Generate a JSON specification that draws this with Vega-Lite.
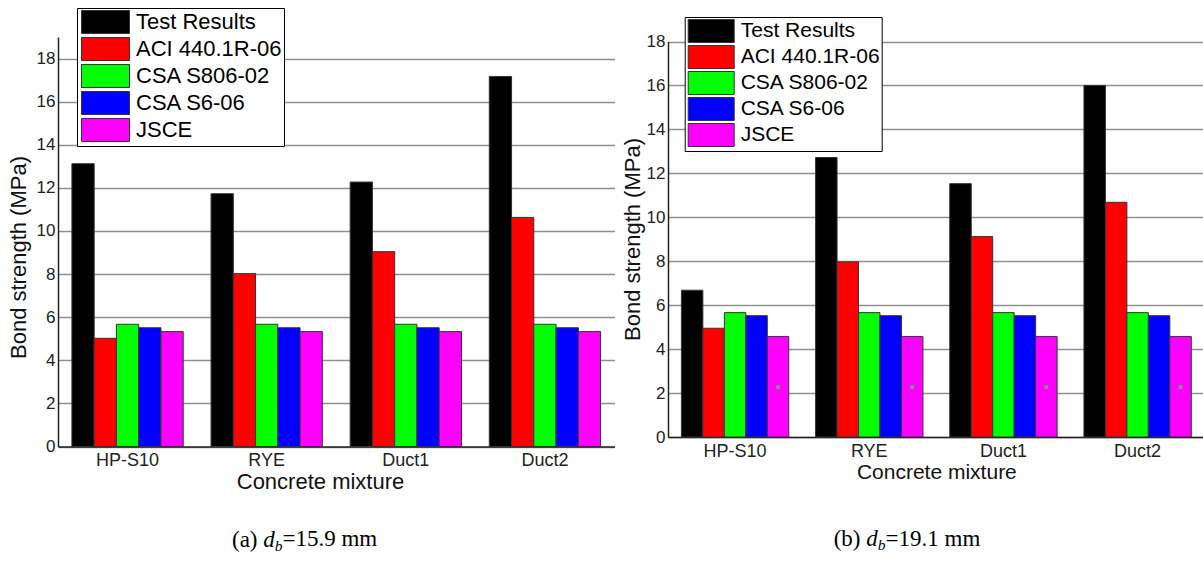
{
  "$schema": "https://vega.github.io/schema/vega-lite/v6.json",
  "padding": {"left": 7, "top": 7, "right": 0, "bottom": 0},
  "background": "white",
  "spacing": 6,
  "resolve": {"scale": {"color": "independent", "x": "independent", "y": "independent", "xOffset": "independent"}, "legend": {"color": "independent"}},
  "config": {
    "view": {"stroke": null},
    "font": "Liberation Sans",
    "axis": {"labelColor": "#222", "titleColor": "#111", "titleFontWeight": "normal", "labelFont": "Liberation Sans", "titleFont": "Liberation Sans"}
  },
  "datasets": {
    "a": [
      {"mixture": "HP-S10", "method": "Test Results", "value": 13.12},
      {"mixture": "HP-S10", "method": "ACI 440.1R-06", "value": 5.02},
      {"mixture": "HP-S10", "method": "CSA S806-02", "value": 5.67},
      {"mixture": "HP-S10", "method": "CSA S6-06", "value": 5.51},
      {"mixture": "HP-S10", "method": "JSCE", "value": 5.33},
      {"mixture": "RYE", "method": "Test Results", "value": 11.73},
      {"mixture": "RYE", "method": "ACI 440.1R-06", "value": 8.02},
      {"mixture": "RYE", "method": "CSA S806-02", "value": 5.67},
      {"mixture": "RYE", "method": "CSA S6-06", "value": 5.51},
      {"mixture": "RYE", "method": "JSCE", "value": 5.33},
      {"mixture": "Duct1", "method": "Test Results", "value": 12.27},
      {"mixture": "Duct1", "method": "ACI 440.1R-06", "value": 9.04},
      {"mixture": "Duct1", "method": "CSA S806-02", "value": 5.67},
      {"mixture": "Duct1", "method": "CSA S6-06", "value": 5.51},
      {"mixture": "Duct1", "method": "JSCE", "value": 5.33},
      {"mixture": "Duct2", "method": "Test Results", "value": 17.17},
      {"mixture": "Duct2", "method": "ACI 440.1R-06", "value": 10.63},
      {"mixture": "Duct2", "method": "CSA S806-02", "value": 5.67},
      {"mixture": "Duct2", "method": "CSA S6-06", "value": 5.51},
      {"mixture": "Duct2", "method": "JSCE", "value": 5.33}
    ],
    "b": [
      {"mixture": "HP-S10", "method": "Test Results", "value": 6.68},
      {"mixture": "HP-S10", "method": "ACI 440.1R-06", "value": 4.95},
      {"mixture": "HP-S10", "method": "CSA S806-02", "value": 5.66},
      {"mixture": "HP-S10", "method": "CSA S6-06", "value": 5.52},
      {"mixture": "HP-S10", "method": "JSCE", "value": 4.57},
      {"mixture": "RYE", "method": "Test Results", "value": 12.72},
      {"mixture": "RYE", "method": "ACI 440.1R-06", "value": 7.97},
      {"mixture": "RYE", "method": "CSA S806-02", "value": 5.66},
      {"mixture": "RYE", "method": "CSA S6-06", "value": 5.52},
      {"mixture": "RYE", "method": "JSCE", "value": 4.57},
      {"mixture": "Duct1", "method": "Test Results", "value": 11.53},
      {"mixture": "Duct1", "method": "ACI 440.1R-06", "value": 9.12},
      {"mixture": "Duct1", "method": "CSA S806-02", "value": 5.66},
      {"mixture": "Duct1", "method": "CSA S6-06", "value": 5.52},
      {"mixture": "Duct1", "method": "JSCE", "value": 4.57},
      {"mixture": "Duct2", "method": "Test Results", "value": 16.0},
      {"mixture": "Duct2", "method": "ACI 440.1R-06", "value": 10.68},
      {"mixture": "Duct2", "method": "CSA S806-02", "value": 5.66},
      {"mixture": "Duct2", "method": "CSA S6-06", "value": 5.52},
      {"mixture": "Duct2", "method": "JSCE", "value": 4.57}
    ],
    "bdots": [
      {"mixture": "HP-S10", "method": "JSCE", "value": 2.27},
      {"mixture": "RYE", "method": "JSCE", "value": 2.27},
      {"mixture": "Duct1", "method": "JSCE", "value": 2.27},
      {"mixture": "Duct2", "method": "JSCE", "value": 2.27}
    ]
  },
  "hconcat": [
    {
      "title": {"text": "=15.9 mm", "orient": "bottom", "anchor": "start", "frame": "bounds", "font": "Liberation Serif", "fontSize": 23, "fontWeight": "normal", "color": "#000", "baseline": "top", "offset": -25.6, "dx": 275.5},
      "vconcat": [
        {
          "title": {"text": "b", "orient": "bottom", "anchor": "start", "frame": "bounds", "font": "Liberation Serif", "fontSize": 15.5, "fontStyle": "italic", "fontWeight": "normal", "color": "#000", "baseline": "top", "offset": -13, "dx": 267.8},
          "vconcat": [
            {
              "title": {"text": "d", "orient": "bottom", "anchor": "start", "frame": "bounds", "font": "Liberation Serif", "fontSize": 23, "fontStyle": "italic", "fontWeight": "normal", "color": "#000", "baseline": "top", "offset": -23, "dx": 256.3},
              "vconcat": [
                {
                  "width": 556.5,
                  "height": 438.5,
                  "title": {"text": "(a)", "orient": "bottom", "anchor": "start", "frame": "bounds", "font": "Liberation Serif", "fontSize": 23, "fontWeight": "normal", "color": "#000", "baseline": "top", "offset": 36, "dx": 225},
                  "data": {"name": "a"},
                  "mark": {"type": "bar", "stroke": "#333", "strokeWidth": 1},
                  "encoding": {
                    "x": {"field": "mixture", "type": "nominal", "sort": ["HP-S10", "RYE", "Duct1", "Duct2"],
                      "scale": {"paddingInner": 0.2, "paddingOuter": 0.1},
                      "axis": {"title": "Concrete mixture", "labelAngle": 0, "ticks": false, "labelPadding": 5, "labelFontSize": 18, "titleFontSize": 22, "titlePadding": 2, "titleX": 262, "domainColor": "#222", "domainWidth": 1.5, "grid": false}},
                    "xOffset": {"field": "method", "type": "nominal",
                      "scale": {"domain": ["Test Results", "ACI 440.1R-06", "CSA S806-02", "CSA S6-06", "JSCE"], "paddingInner": 0, "paddingOuter": 0}},
                    "y": {"field": "value", "type": "quantitative",
                      "scale": {"domain": [0, 19], "range": [438.5, 29], "nice": false, "zero": true},
                      "axis": {"title": "Bond strength (MPa)", "values": [0, 2, 4, 6, 8, 10, 12, 14, 16, 18], "format": "d", "ticks": false, "labelPadding": 3, "labelFontSize": 17, "titleFontSize": 22, "titleX": -40, "titleY": 249, "titleBaseline": "middle", "grid": true, "gridColor": "#8f8f8f", "gridWidth": 1.5, "domainColor": "#222", "domainWidth": 1.5}},
                    "color": {"field": "method", "type": "nominal",
                      "scale": {"domain": ["Test Results", "ACI 440.1R-06", "CSA S806-02", "CSA S6-06", "JSCE"], "range": ["#000000", "#ff0000", "#00ff00", "#0000ff", "#ff00ff"]},
                      "legend": {"orient": "none", "legendX": 19, "legendY": 0, "title": null, "symbolType": "M-2.087,-1H2.087V1H-2.087Z", "symbolSize": 529, "symbolStrokeColor": "#333", "symbolStrokeWidth": 1, "symbolOpacity": 1, "symbolOffset": 14.5, "labelOffset": 18.5, "labelFontSize": 22, "labelFont": "Liberation Sans", "labelColor": "#000", "labelLimit": 400, "strokeColor": "#000", "fillColor": "#fff", "padding": 2, "rowPadding": -1}}
                  }
                }
              ]
            }
          ]
        }
      ]
    },
    {
      "title": {"text": "=19.1 mm", "orient": "bottom", "anchor": "start", "frame": "bounds", "font": "Liberation Serif", "fontSize": 23, "fontWeight": "normal", "color": "#000", "baseline": "top", "offset": -25.6, "dx": 263.9},
      "vconcat": [
        {
          "title": {"text": "b", "orient": "bottom", "anchor": "start", "frame": "bounds", "font": "Liberation Serif", "fontSize": 15.5, "fontStyle": "italic", "fontWeight": "normal", "color": "#000", "baseline": "top", "offset": -13, "dx": 256.1},
          "vconcat": [
            {
              "title": {"text": "d", "orient": "bottom", "anchor": "start", "frame": "bounds", "font": "Liberation Serif", "fontSize": 23, "fontStyle": "italic", "fontWeight": "normal", "color": "#000", "baseline": "top", "offset": -23, "dx": 244.6},
              "vconcat": [
                {
                  "width": 536.7,
                  "height": 429,
                  "title": {"text": "(b)", "orient": "bottom", "anchor": "start", "frame": "bounds", "font": "Liberation Serif", "fontSize": 23, "fontWeight": "normal", "color": "#000", "baseline": "top", "offset": 46, "dx": 212},
                  "layer": [
                    {
                      "data": {"name": "b"},
                      "mark": {"type": "bar", "stroke": "#333", "strokeWidth": 1},
                      "encoding": {
                        "x": {"field": "mixture", "type": "nominal", "sort": ["HP-S10", "RYE", "Duct1", "Duct2"],
                          "scale": {"paddingInner": 0.2, "paddingOuter": 0.1},
                          "axis": {"title": "Concrete mixture", "labelAngle": 0, "ticks": false, "labelPadding": 5, "labelFontSize": 18, "titleFontSize": 21, "titlePadding": 1, "domainColor": "#222", "domainWidth": 1.5, "grid": false}},
                        "xOffset": {"field": "method", "type": "nominal",
                          "scale": {"domain": ["Test Results", "ACI 440.1R-06", "CSA S806-02", "CSA S6-06", "JSCE"], "paddingInner": 0, "paddingOuter": 0}},
                        "y": {"field": "value", "type": "quantitative",
                          "scale": {"domain": [0, 18], "range": [429, 33.5], "nice": false, "zero": true},
                          "axis": {"title": "Bond strength (MPa)", "values": [0, 2, 4, 6, 8, 10, 12, 14, 16, 18], "format": "d", "ticks": false, "labelPadding": 3, "labelFontSize": 17, "titleFontSize": 22, "titleX": -35.3, "titleY": 231, "titleBaseline": "middle", "grid": true, "gridColor": "#8f8f8f", "gridWidth": 1.5, "domainColor": "#222", "domainWidth": 1.5}},
                        "color": {"field": "method", "type": "nominal",
                          "scale": {"domain": ["Test Results", "ACI 440.1R-06", "CSA S806-02", "CSA S6-06", "JSCE"], "range": ["#000000", "#ff0000", "#00ff00", "#0000ff", "#ff00ff"]},
                          "legend": {"orient": "none", "legendX": 16.7, "legendY": 9, "title": null, "symbolType": "M-2,-1H2V1H-2Z", "symbolSize": 529, "symbolStrokeColor": "#333", "symbolStrokeWidth": 1, "symbolOpacity": 1, "symbolOffset": 12.5, "labelOffset": 17.5, "labelFontSize": 21, "labelFont": "Liberation Sans", "labelColor": "#000", "labelLimit": 400, "strokeColor": "#000", "fillColor": "#fff", "padding": 2, "rowPadding": -2}}
                      }
                    },
                    {
                      "data": {"name": "bdots"},
                      "mark": {"type": "square", "size": 14, "color": "#6fa06f", "opacity": 1, "filled": true},
                      "encoding": {
                        "x": {"field": "mixture", "type": "nominal", "sort": ["HP-S10", "RYE", "Duct1", "Duct2"]},
                        "xOffset": {"field": "method", "type": "nominal"},
                        "y": {"field": "value", "type": "quantitative"}
                      }
                    }
                  ]
                }
              ]
            }
          ]
        }
      ]
    }
  ]
}
